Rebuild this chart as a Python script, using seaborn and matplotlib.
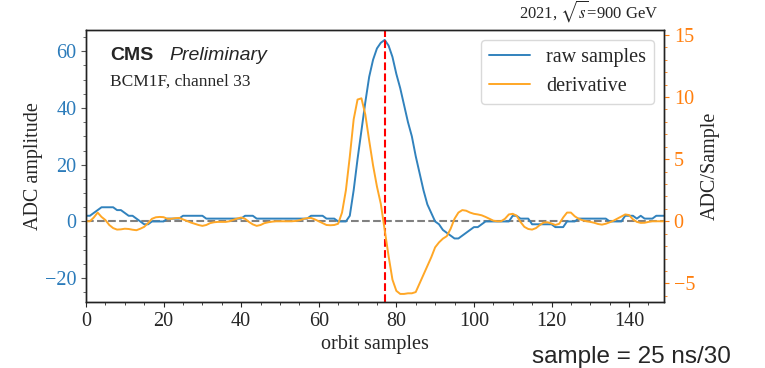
import numpy as np
import pandas as pd
import matplotlib
matplotlib.use("Agg")
import matplotlib.pyplot as plt
from matplotlib.ticker import MultipleLocator
import seaborn as sns

# ---- data ----
raw_samples = [
    2, 2, 3, 4, 5, 5, 5, 5, 4, 4,
    3, 2, 2, 1, 0, -1, -1, 0, 0, 0,
    0, 1, 1, 1, 1, 2, 2, 2, 2, 2,
    2, 1, 1, 1, 1, 1, 1, 1, 1, 1,
    1, 2, 2, 2, 1, 1, 1, 1, 1, 1,
    1, 1, 1, 1, 1, 1, 1, 1, 2, 2,
    2, 2, 1, 1, 1, 0, 0, 0, 2, 11,
    22, 32, 42, 51, 57, 61, 63, 64, 62, 58,
    52, 47, 41, 35, 30, 23, 17, 11, 6, 3,
    0, -1, -3, -4, -5, -6, -6, -5, -4, -3,
    -2, -2, -1, 0, 0, 0, 0, 0, 0, 0,
    2, 2, 1, 1, 1, -1, -1, -1, -1, -1,
    -1, -2, -2, -2, 0, 0, 0, 1, 1, 1,
    1, 1, 1, 1, 1, 0, 0, 0, 0, 2,
    2, 2, 1, 2, 1, 1, 1, 2, 2, 2,
]
derivative = [
    0.0, 0.0, 0.3, 0.7, 0.35, 0.1, -0.3, -0.55, -0.67, -0.65,
    -0.6, -0.62, -0.68, -0.72, -0.6, -0.45, -0.15, 0.2, 0.32, 0.35,
    0.33, 0.2, 0.2, 0.25, 0.27, 0.15, 0.03, -0.1, -0.2, -0.3,
    -0.37, -0.3, -0.15, -0.08, -0.05, -0.05, -0.05, 0.0, 0.12, 0.22,
    0.3, 0.2, -0.05, -0.25, -0.37, -0.3, -0.15, -0.08, -0.03, 0.0,
    0.0, 0.0, 0.0, 0.0, 0.02, 0.08, 0.18, 0.25, 0.27, 0.15,
    0.0, -0.15, -0.3, -0.32, -0.3, -0.2, 0.7, 2.5, 5.2, 8.2,
    9.8, 9.9, 8.6, 6.5, 4.5, 2.8, 1.4, -0.7, -2.8, -4.7,
    -5.6, -5.85, -5.85, -5.8, -5.8, -5.7, -5.0, -4.3, -3.6, -2.9,
    -2.1, -1.7, -1.4, -1.2, -0.6, 0.2, 0.7, 0.9, 0.85, 0.7,
    0.6, 0.55, 0.48, 0.35, 0.2, 0.05, 0.0, 0.0, 0.2, 0.55,
    0.6, 0.45, -0.05, -0.45, -0.62, -0.67, -0.55, -0.3, -0.1, -0.08,
    -0.18, -0.3, -0.2, 0.3, 0.7, 0.7, 0.4, 0.2, 0.08, 0.0,
    -0.05, -0.12, -0.22, -0.27, -0.2, -0.08, 0.05, 0.22, 0.4, 0.55,
    0.5, 0.15, -0.05, -0.13, -0.12, -0.05, 0.0, 0.0, 0.0, 0.0,
]
peak_sample = 77
x_ticks = [0, 20, 40, 60, 80, 100, 120, 140]
left_ticks = [-20, 0, 20, 40, 60]
right_ticks = [-5, 0, 5, 10, 15]

df = pd.DataFrame({
    "sample": np.arange(len(raw_samples)),
    "raw": raw_samples,
    "deriv": derivative,
})

sns.set_style("ticks")
plt.rcParams["font.family"] = ["Liberation Serif", "DejaVu Serif"]
plt.rcParams["mathtext.fontset"] = "stix"

BLUE = "#3182bd"
ORANGE = "#ffa726"
TICK_ORANGE = "#ff7f0e"
TICK_BLUE = "#2b7bba"

fig = plt.figure(figsize=(7.65, 3.68), dpi=100)
ax = fig.add_axes([86 / 765, 1 - 302 / 368, (664 - 86) / 765, (302 - 30) / 368])
ax2 = ax.twinx()

sns.lineplot(data=df, x="sample", y="raw", ax=ax, color=BLUE, lw=1.4,
             label="raw samples", legend=False)
sns.lineplot(data=df, x="sample", y="deriv", ax=ax2, color=ORANGE, lw=1.4,
             label="derivative", legend=False)

ax.axhline(0, color="gray", ls="--", lw=1.5, zorder=1)
ax.axvline(peak_sample, color="red", ls="--", lw=1.5)

ax.set_xlim(0, 149)
ax.set_ylim(-28.4, 67.5)
ax2.set_ylim(-6.5, 15.4)

ax.set_xticks(x_ticks)
ax.set_yticks(left_ticks)
ax2.set_yticks(right_ticks)
ax.xaxis.set_minor_locator(MultipleLocator(5))
ax.yaxis.set_minor_locator(MultipleLocator(5))
ax2.yaxis.set_minor_locator(MultipleLocator(1))

for a in (ax, ax2):
    a.tick_params(which="major", length=3.5, width=0.8, labelsize=14.5)
    a.tick_params(which="minor", length=2, width=0.6)
    for s in a.spines.values():
        s.set_visible(True)
        s.set_color("#222222")
        s.set_linewidth(1.0)
ax.tick_params(axis="y", which="both", labelcolor=TICK_BLUE, color="#555555")
ax2.tick_params(axis="y", which="both", labelcolor=TICK_ORANGE, color=TICK_ORANGE)

ax.set_xlabel("orbit samples", fontsize=14.5, labelpad=3)
ax.set_ylabel("ADC amplitude", fontsize=14.5, labelpad=1)
ax2.set_ylabel("ADC/Sample", fontsize=14.5, labelpad=4)

h1, l1 = ax.get_legend_handles_labels()
h2, l2 = ax2.get_legend_handles_labels()
leg = ax2.legend(h1 + h2, l1 + l2, loc="upper right", fontsize=14.5,
                 frameon=True, fancybox=True)
leg.get_frame().set_edgecolor("#d0d0d0")

ax.text(0.0415, 0.89, "CMS", transform=ax.transAxes, fontsize=14,
        fontweight="bold", family=["Liberation Sans", "DejaVu Sans"], va="baseline")
ax.text(0.1436, 0.89, "Preliminary", transform=ax.transAxes, fontsize=14,
        fontstyle="italic", family=["Liberation Sans", "DejaVu Sans"], va="baseline")
ax.text(0.0415, 0.794, "BCM1F, channel 33", transform=ax.transAxes,
        fontsize=12.5, va="baseline")
fig.text(658 / 765, 1 - 18 / 368, r"2021, $\sqrt{s}$=900 GeV", fontsize=12,
         ha="right", va="baseline")
fig.text(532 / 765, 1 - 363 / 368, "sample = 25 ns/30", fontsize=17.5,
         family=["Liberation Sans", "DejaVu Sans"], va="baseline")

fig.savefig("out.png", dpi=100)
